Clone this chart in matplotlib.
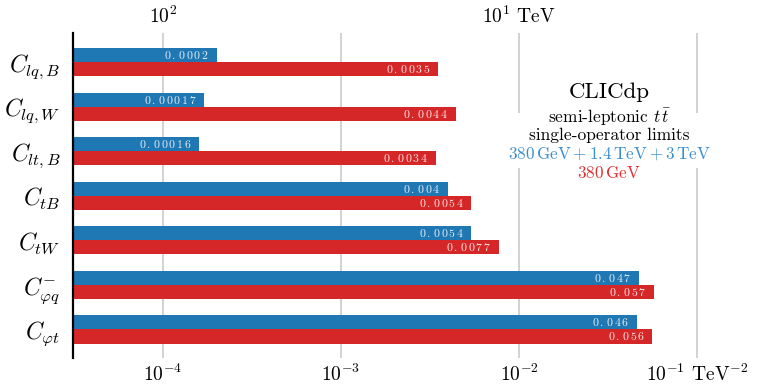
import numpy as np
import matplotlib.pyplot as plt
from matplotlib.patches import Rectangle
from matplotlib.ticker import NullLocator

plt.rcParams['font.family'] = 'serif'
plt.rcParams['font.serif'] = ['cmr10', 'DejaVu Serif']
plt.rcParams['mathtext.fontset'] = 'cm'
plt.rcParams['axes.unicode_minus'] = False

operators = [r'$C_{lq,B}$', r'$C_{lq,W}$', r'$C_{lt,B}$', r'$C_{tB}$',
             r'$C_{tW}$', r'$C_{\varphi q}^{-}$', r'$C_{\varphi t}$']
limits_all = [0.0002, 0.00017, 0.00016, 0.004, 0.0054, 0.047, 0.046]
limits_380 = [0.0035, 0.0044, 0.0034, 0.0054, 0.0077, 0.057, 0.056]

coef_ticks = [1e-4, 1e-3, 1e-2, 1e-1]
coef_labels = [r'$10^{-4}$', r'$10^{-3}$', r'$10^{-2}$', r'$10^{-1}$ TeV$^{-2}$']
scale_ticks = [1e2, 1e1]
scale_labels = [r'$10^{2}$', r'$10^{1}$ TeV']

blue = '#1f77b4'
red = '#d62728'


def spaced(v):
    # small labels are set with a bit of letter spacing
    return '$' + r'\,'.join(str(v)) + '$'


fig = plt.figure(figsize=(7.59, 3.86), dpi=100)
ax = fig.add_axes([73 / 759, 1 - 358 / 386, (745 - 73) / 759, (358 - 33) / 386])

y = np.arange(len(operators))
h = 0.315
bars_all = ax.barh(y - h / 2, limits_all, height=h, color=blue, zorder=2)
bars_380 = ax.barh(y + h / 2, limits_380, height=h, color=red, zorder=2)

for bars, vals in ((bars_all, limits_all), (bars_380, limits_380)):
    for b, v in zip(bars, vals):
        ax.text(v / 1.10, b.get_y() + b.get_height() / 2, spaced(v),
                ha='right', va='center', color='white', alpha=0.88,
                fontsize=8.5, zorder=3)

ax.set_xscale('log')
ax.set_xlim(3.12e-5, 0.186)
ax.set_ylim(len(operators) - 1 + 0.64, -0.65)

ax.set_yticks(y, operators, fontsize=17)
ax.set_xticks(coef_ticks, coef_labels, fontsize=14)
ax.xaxis.set_minor_locator(NullLocator())
ax.tick_params(axis='both', length=0)
ax.tick_params(axis='y', pad=9)
ax.tick_params(axis='x', pad=4)
ax.grid(axis='x', color='#c6c6c6', linewidth=1.1, zorder=0)
ax.set_axisbelow(True)

for side in ('top', 'right', 'bottom'):
    ax.spines[side].set_visible(False)
ax.spines['left'].set_linewidth(1.6)

# new-physics scale on top: Lambda = 1/sqrt(C)
top = ax.secondary_xaxis('top', functions=(
    lambda c: 1 / np.sqrt(np.clip(c, 1e-12, None)),
    lambda m: 1 / np.clip(m, 1e-6, None) ** 2))
top.set_xticks(scale_ticks, scale_labels, fontsize=14)
top.xaxis.set_minor_locator(NullLocator())
top.tick_params(length=0, pad=4)
top.spines['top'].set_visible(False)

# legend block
ax.add_patch(Rectangle((0.645, 0.585), 0.31, 0.17, transform=ax.transAxes,
                       facecolor='white', edgecolor='none', zorder=1))
tx = 0.798
ax.text(tx, 0.818, 'CLICdp', transform=ax.transAxes, ha='center', va='center', fontsize=16.5)
ax.text(tx, 0.742, r'semi-leptonic $t\,\bar{t}$', transform=ax.transAxes,
        ha='center', va='center', fontsize=12.5)
ax.text(tx, 0.685, 'single-operator limits', transform=ax.transAxes,
        ha='center', va='center', fontsize=12.5)
ax.text(tx, 0.63, r'$380\,\mathrm{GeV} + 1.4\,\mathrm{TeV} + 3\,\mathrm{TeV}$',
        transform=ax.transAxes, ha='center', va='center', fontsize=12.3, color='#3a8fd0')
ax.text(tx, 0.568, r'$380\,\mathrm{GeV}$', transform=ax.transAxes,
        ha='center', va='center', fontsize=12.3, color='#e03030')

fig.savefig('out.png', dpi=100)
